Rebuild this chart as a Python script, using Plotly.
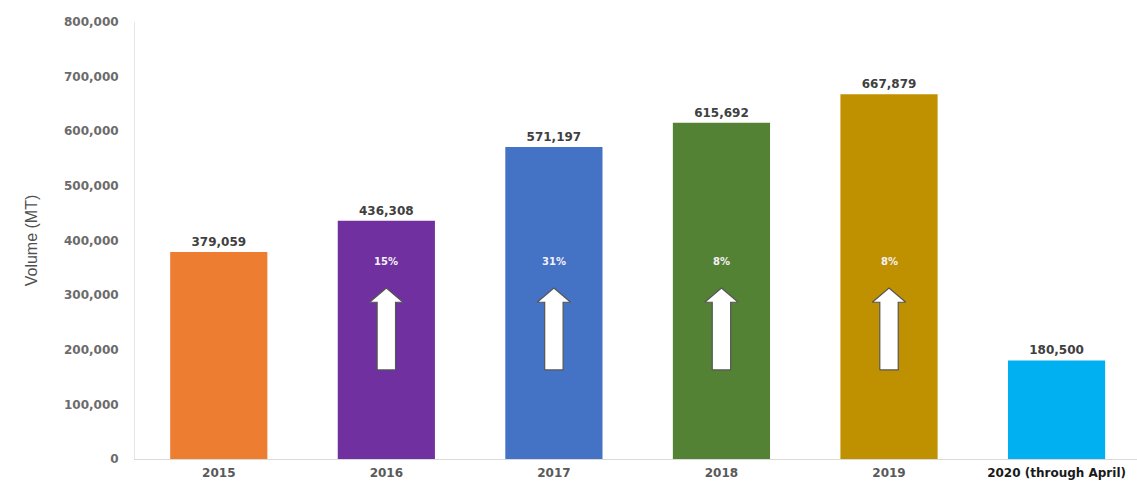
import plotly.graph_objects as go

categories = ["2015", "2016", "2017", "2018", "2019", "2020 (through April)"]
volumes = [379059, 436308, 571197, 615692, 667879, 180500]
bar_colors = ["#ED7D31", "#7030A0", "#4472C4", "#548235", "#BF9000", "#00B0F0"]
growth_labels = ["", "15%", "31%", "8%", "8%", ""]
y_ticks = [0, 100000, 200000, 300000, 400000, 500000, 600000, 700000, 800000]

xs = list(range(len(categories)))
FONT = "DejaVu Sans"

fig = go.Figure()
fig.add_trace(go.Bar(
    x=xs, y=volumes,
    marker=dict(color=bar_colors, line=dict(width=0)),
    text=[f"<b>{v:,}</b>" for v in volumes],
    textposition="outside",
    textfont=dict(family=FONT, size=12, color="#404040"),
    cliponaxis=False,
    width=0.58,
    hoverinfo="skip",
))

# growth arrows (white block arrows) and percentage labels
arrow_bottom, arrow_neck, arrow_top = 163000, 287000, 313000
shaft_hw, head_hw = 0.055, 0.1
for i, lab in enumerate(growth_labels):
    if not lab:
        continue
    ax = [i - shaft_hw, i - shaft_hw, i - head_hw, i, i + head_hw, i + shaft_hw, i + shaft_hw, i - shaft_hw]
    ay = [arrow_bottom, arrow_neck, arrow_neck, arrow_top, arrow_neck, arrow_neck, arrow_bottom, arrow_bottom]
    fig.add_trace(go.Scatter(
        x=ax, y=ay, mode="lines", fill="toself", fillcolor="#FFFFFF",
        line=dict(color="#555555", width=1.2), hoverinfo="skip",
    ))
    fig.add_annotation(x=i, y=361000, text=f"<b>{lab}</b>", showarrow=False,
                       font=dict(family=FONT, size=10, color="#F4F0F8"))

fig.update_layout(
    width=1137, height=485,
    margin=dict(l=135, r=0, t=22, b=26),
    plot_bgcolor="white", paper_bgcolor="white",
    showlegend=False,
    xaxis=dict(
        range=[-0.5, 5.48],
        tickmode="array", tickvals=xs,
        ticktext=[f"<b>{c}</b>" for c in categories[:-1]] + [f"<b><span style='color:#1a1a1a'>{categories[-1]}</span></b>"],
        tickfont=dict(family=FONT, size=12, color="#595959"),
        showline=True, linecolor="#D9D9D9", linewidth=1,
        showgrid=False, zeroline=False,
        ticks="outside", ticklen=3, tickcolor="rgba(0,0,0,0)",
    ),
    yaxis=dict(
        range=[0, 800000],
        tickvals=y_ticks,
        ticktext=[f"<b>{v:,}</b>" for v in y_ticks],
        tickfont=dict(family=FONT, size=12, color="#6b6b6b"),
        showline=True, linecolor="#E6E6E6", linewidth=1,
        showgrid=False, zeroline=False,
        ticks="outside", ticklen=13, tickcolor="rgba(0,0,0,0)",
        title=dict(text="Volume (MT)", standoff=22,
                   font=dict(family="Liberation Sans", size=16, color="#505050")),
    ),
)

fig.write_html("out.html", config={"displayModeBar": False},
               post_script="document.body.style.margin='0';document.body.style.overflow='hidden';")
